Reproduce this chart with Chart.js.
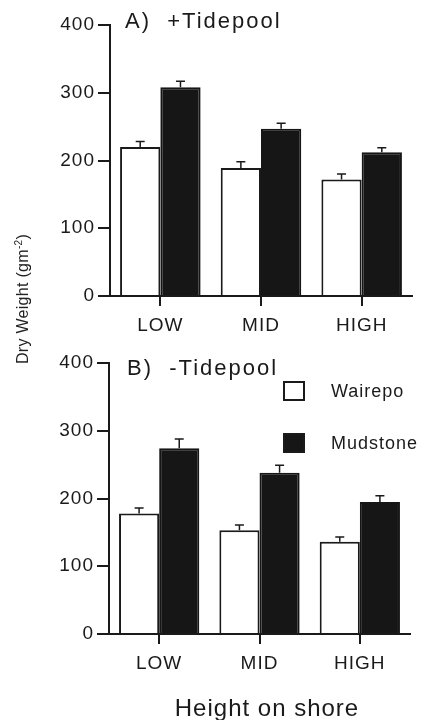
<!DOCTYPE html>
<html>
<head>
<meta charset="utf-8">
<script src="https://cdn.jsdelivr.net/npm/chart.js@4.4.1/dist/chart.umd.min.js"></script>
<style>
  html, body { margin: 0; padding: 0; background: #fff; }
  #wrap { position: relative; width: 426px; height: 720px; overflow: hidden; }
  canvas { position: absolute; left: 0; }
  #ytitle {
    position: absolute; left: -77px; top: 289px; width: 200px; height: 20px;
    line-height: 20px; text-align: center; transform: rotate(-90deg);
    font-family: 'Liberation Sans', Arial, sans-serif; font-size: 16px; color: #222;
    letter-spacing: 0.3px;
  }
  #ytitle sup { font-size: 10px; line-height: 0; }
  #xtitle {
    position: absolute; left: 117px; top: 694px; width: 300px; height: 28px;
    line-height: 28px; text-align: center;
    font-family: 'Liberation Sans', Arial, sans-serif; font-size: 24px; color: #1a1a1a;
    letter-spacing: 1px;
  }
</style>
</head>
<body>
<div id="wrap">
  <canvas id="panelA" width="426" height="340" style="top:0"></canvas>
  <canvas id="panelB" width="426" height="380" style="top:340px"></canvas>
  <div id="ytitle">Dry Weight (gm<sup>-2</sup>)</div>
  <div id="xtitle">Height on shore</div>
</div>
<script>
const categories = ['LOW', 'MID', 'HIGH'];
const seriesNames = ['Wairepo', 'Mudstone'];

// A) +Tidepool
const plusWairepo = [220, 189, 172];
const plusWairepoErr = [8, 9, 8];
const plusMudstone = [308, 247, 212];
const plusMudstoneErr = [9, 8, 7];

// B) -Tidepool
const minusWairepo = [178, 153, 136];
const minusWairepoErr = [8, 8, 7];
const minusMudstone = [274, 238, 195];
const minusMudstoneErr = [14, 11, 9];

const yMin = 0, yMax = 400, yStep = 100;

const FONT = "'Liberation Sans', Arial, sans-serif";
const INK = '#1a1a1a';

// wider tracking, like the typeset original
const trackingPlugin = {
    id: 'tracking',
    beforeUpdate(chart) { chart.ctx.letterSpacing = '1px'; },
    beforeDraw(chart) { chart.ctx.letterSpacing = '1px'; }
};

// upward-only error bars with a cap
const errorBarPlugin = {
    id: 'errorBars',
    afterDatasetsDraw(chart) {
        const ctx = chart.ctx;
        const yScale = chart.scales.y;
        ctx.save();
        ctx.strokeStyle = INK;
        ctx.lineWidth = 1.5;
        chart.data.datasets.forEach((ds, i) => {
            const meta = chart.getDatasetMeta(i);
            meta.data.forEach((bar, j) => {
                const top = yScale.getPixelForValue(ds.data[j] + ds.errors[j]);
                ctx.beginPath();
                ctx.moveTo(bar.x, bar.y);
                ctx.lineTo(bar.x, top);
                ctx.moveTo(bar.x - 4.5, top);
                ctx.lineTo(bar.x + 4.5, top);
                ctx.stroke();
            });
        });
        ctx.restore();
    }
};

// panel label and (optional) legend
const panelDecorPlugin = {
    id: 'panelDecor',
    afterDraw(chart, args, opts) {
        const ctx = chart.ctx;
        ctx.save();
        ctx.letterSpacing = '2px';
        ctx.fillStyle = INK;
        ctx.textBaseline = 'middle';
        ctx.textAlign = 'left';
        ctx.font = `22px ${FONT}`;
        ctx.fillText(opts.title, opts.titleX, opts.titleY);

        if (opts.legend) {
            ctx.letterSpacing = '1px';
            ctx.font = `18px ${FONT}`;
            chart.data.datasets.forEach((ds, i) => {
                const y = opts.legendY + i * 52;
                ctx.fillStyle = ds.backgroundColor;
                ctx.fillRect(opts.legendX, y, 22, 20);
                ctx.strokeStyle = INK;
                ctx.lineWidth = 2;
                ctx.strokeRect(opts.legendX + 1, y + 1, 20, 18);
                ctx.fillStyle = INK;
                ctx.fillText(ds.label, opts.legendX + 48, y + 11);
            });
        }
        ctx.restore();
    }
};

function makePanel(canvasId, wairepo, wairepoErr, mudstone, mudstoneErr, cfg) {
    return new Chart(document.getElementById(canvasId), {
        type: 'bar',
        data: {
            labels: categories,
            datasets: [
                {
                    label: seriesNames[0],
                    data: wairepo,
                    errors: wairepoErr,
                    backgroundColor: '#ffffff',
                    borderColor: INK,
                    borderWidth: 2,
                    barPercentage: 1.0,
                    categoryPercentage: 0.8
                },
                {
                    label: seriesNames[1],
                    data: mudstone,
                    errors: mudstoneErr,
                    backgroundColor: '#161616',
                    borderColor: '#161616',
                    borderWidth: 2,
                    barPercentage: 1.0,
                    categoryPercentage: 0.8
                }
            ]
        },
        options: {
            responsive: false,
            animation: false,
            devicePixelRatio: 1,
            layout: { padding: cfg.padding },
            scales: {
                x: {
                    type: 'category',
                    offset: true,
                    ticks: { color: INK, font: { family: FONT, size: 19 }, padding: 8 },
                    grid: { offset: false, drawOnChartArea: false, drawTicks: true, tickLength: 10, color: INK, lineWidth: 2 },
                    border: { display: true, color: INK, width: 2 },
                    afterFit: s => { s.height = cfg.xHeight; }
                },
                y: {
                    min: yMin,
                    max: yMax,
                    ticks: { stepSize: yStep, color: INK, font: { family: FONT, size: 19 }, padding: 3 },
                    grid: { drawOnChartArea: false, drawTicks: true, tickLength: 12, color: INK, lineWidth: 2 },
                    border: { display: true, color: INK, width: 2 },
                    afterFit: s => { s.width = cfg.yWidth; }
                }
            },
            plugins: {
                legend: { display: false },
                tooltip: { enabled: false },
                panelDecor: cfg.decor
            }
        },
        plugins: [trackingPlugin, errorBarPlugin, panelDecorPlugin]
    });
}

makePanel('panelA', plusWairepo, plusWairepoErr, plusMudstone, plusMudstoneErr, {
    padding: { top: 25, right: 14, bottom: 0, left: 0 },
    yWidth: 110,
    xHeight: 44,
    decor: { title: 'A)  +Tidepool', titleX: 125, titleY: 22, legend: false }
});

makePanel('panelB', minusWairepo, minusWairepoErr, minusMudstone, minusMudstoneErr, {
    padding: { top: 23, right: 16, bottom: 0, left: 0 },
    yWidth: 109,
    xHeight: 86,
    decor: { title: 'B)  -Tidepool', titleX: 127, titleY: 29, legend: true, legendX: 283, legendY: 41 }
});
</script>
</body>
</html>
